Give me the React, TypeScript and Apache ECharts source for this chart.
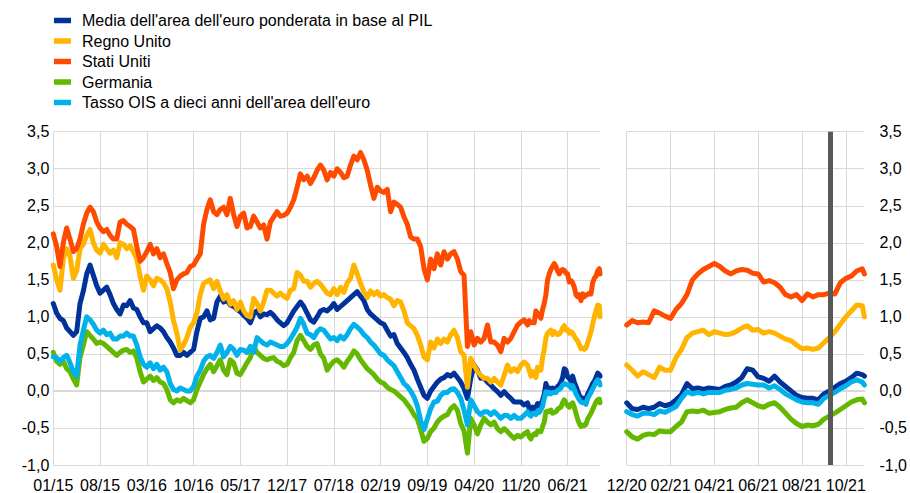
import React, { useEffect, useRef } from 'react';
import * as echarts from 'echarts';

// Series names (legend order) and colours
const seriesNames = [
  "Media dell'area dell'euro ponderata in base al PIL",
  'Regno Unito',
  'Stati Uniti',
  'Germania',
  "Tasso OIS a dieci anni dell'area dell'euro",
];
const seriesColors = ['#003299', '#FFB400', '#FF4B00', '#65B800', '#00B1EA'];

// Tick labels
const leftTickLabels = ['01/15', '08/15', '03/16', '10/16', '05/17', '12/17', '07/18', '02/19', '09/19', '04/20', '11/20', '06/21'];
const rightTickLabels = ['12/20', '02/21', '04/21', '06/21', '08/21', '10/21'];

// History: half-monthly readings, Jan 2015 .. mid Nov 2020 (x = months since Jan 2015)
const euroHist = [
  1.18, 1.05, 0.98, 0.95, 0.85, 0.80, 0.75, 0.80, 1.18, 1.35, 1.58, 1.70, 1.56, 1.42, 1.32, 1.36, 1.40, 1.30, 1.18, 1.10, 1.04, 1.16, 1.15, 1.22, 1.12, 1.10, 1.00, 0.92, 0.92, 0.80, 0.84, 0.88, 0.85, 0.80, 0.72, 0.66, 0.58, 0.48, 0.48, 0.52, 0.48,
  0.52, 0.56, 0.80, 0.98, 1.00, 1.08, 0.96, 0.98, 1.20, 1.28, 1.20, 1.22, 1.16, 1.14, 1.10, 1.07, 1.02, 0.98, 0.92, 1.04, 1.08, 1.00, 1.04, 1.03, 1.06, 1.02, 0.96, 0.92, 0.88, 0.92, 1.00, 1.08, 1.14, 1.20, 1.14, 1.05, 0.96, 0.93, 1.00, 1.08, 1.10,
  1.08, 1.12, 1.18, 1.10, 1.14, 1.18, 1.22, 1.26, 1.30, 1.34, 1.28, 1.22, 1.10, 1.04, 1.00, 0.96, 0.92, 0.90, 0.82, 0.74, 0.76, 0.64, 0.58, 0.52, 0.45, 0.36, 0.28, 0.16, 0.05, -0.06, -0.10, 0.00, 0.06, 0.12, 0.16, 0.18, 0.22, 0.20, 0.24, 0.18,
  0.12, 0.03, -0.10, 0.17, 0.35, 0.28, 0.17, 0.17, 0.12, 0.08, 0.03, -0.01, -0.06, -0.01, -0.06, -0.10, -0.15, -0.15, -0.15, -0.19,
];
const ukHist = [
  1.70, 1.50, 1.36, 1.78, 1.92, 1.82, 1.52, 1.62, 1.92, 1.98, 2.10, 2.18, 2.00, 1.90, 1.86, 1.98, 1.92, 1.86, 1.90, 1.80, 2.00, 1.98, 1.92, 1.96, 1.88, 1.78, 1.55, 1.36, 1.55, 1.50, 1.42, 1.52, 1.50, 1.46, 1.38, 1.20, 0.95, 0.78, 0.55, 0.62, 0.72,
  0.86, 0.92, 1.05, 1.30, 1.45, 1.48, 1.50, 1.38, 1.48, 1.35, 1.24, 1.30, 1.17, 1.22, 1.10, 1.20, 1.08, 1.02, 1.00, 1.25, 1.18, 1.08, 1.20, 1.36, 1.36, 1.32, 1.28, 1.32, 1.28, 1.25, 1.36, 1.38, 1.60, 1.56, 1.48, 1.48, 1.40, 1.45, 1.48, 1.44, 1.38,
  1.32, 1.30, 1.38, 1.30, 1.40, 1.33, 1.46, 1.52, 1.70, 1.58, 1.45, 1.34, 1.26, 1.35, 1.30, 1.34, 1.28, 1.30, 1.26, 1.24, 1.15, 1.22, 1.20, 1.08, 0.92, 0.88, 0.84, 0.75, 0.62, 0.46, 0.42, 0.66, 0.58, 0.70, 0.64, 0.70, 0.66, 0.76, 0.82, 0.72,
  0.53, 0.48, 0.05, 0.44, 0.35, 0.26, 0.21, 0.17, 0.17, 0.12, 0.17, 0.12, 0.08, 0.21, 0.35, 0.26, 0.30, 0.26, 0.35, 0.39,
];
const usHist = [
  2.12, 1.95, 1.68, 2.00, 2.20, 2.05, 1.88, 1.92, 2.05, 2.25, 2.40, 2.48, 2.42, 2.28, 2.20, 2.15, 2.18, 2.10, 2.05, 2.05, 2.28, 2.30, 2.25, 2.22, 2.18, 1.95, 1.75, 1.80, 1.88, 1.98, 1.85, 1.92, 1.80, 1.85, 1.72, 1.60, 1.38, 1.50, 1.55, 1.58, 1.60,
  1.68, 1.70, 1.78, 1.85, 2.25, 2.45, 2.58, 2.42, 2.38, 2.45, 2.48, 2.38, 2.60, 2.38, 2.22, 2.36, 2.40, 2.20, 2.22, 2.36, 2.28, 2.20, 2.24, 2.05, 2.28, 2.35, 2.42, 2.36, 2.37, 2.40, 2.48, 2.58, 2.75, 2.93, 2.85, 2.90, 2.80, 2.88, 2.98, 3.05, 2.98,
  2.85, 2.95, 2.90, 3.00, 2.95, 2.88, 2.90, 3.05, 3.17, 3.12, 3.22, 3.12, 2.98, 2.78, 2.60, 2.75, 2.70, 2.68, 2.72, 2.42, 2.55, 2.52, 2.48, 2.35, 2.25, 2.08, 2.05, 2.05, 1.95, 1.65, 1.50, 1.78, 1.65, 1.85, 1.70, 1.88, 1.78, 1.85, 1.88, 1.78,
  1.61, 1.56, 0.60, 0.80, 0.62, 0.71, 0.66, 0.71, 0.89, 0.66, 0.66, 0.62, 0.53, 0.71, 0.66, 0.71, 0.80, 0.89, 0.93, 0.96,
];
const germanyHist = [
  0.52, 0.40, 0.36, 0.40, 0.30, 0.26, 0.16, 0.08, 0.45, 0.62, 0.80, 0.75, 0.70, 0.64, 0.66, 0.64, 0.60, 0.56, 0.52, 0.48, 0.52, 0.55, 0.56, 0.52, 0.54, 0.44, 0.26, 0.12, 0.16, 0.20, 0.14, 0.18, 0.12, 0.10, 0.02, -0.12, -0.16, -0.12, -0.14, -0.10, -0.13,
  -0.16, -0.12, 0.02, 0.12, 0.22, 0.30, 0.36, 0.26, 0.34, 0.42, 0.28, 0.22, 0.42, 0.38, 0.24, 0.22, 0.30, 0.38, 0.45, 0.60, 0.52, 0.48, 0.44, 0.42, 0.44, 0.45, 0.40, 0.38, 0.34, 0.36, 0.45, 0.52, 0.68, 0.75, 0.68, 0.60, 0.56, 0.62, 0.64, 0.50, 0.44,
  0.28, 0.35, 0.40, 0.42, 0.38, 0.32, 0.40, 0.46, 0.54, 0.50, 0.42, 0.36, 0.30, 0.26, 0.22, 0.16, 0.12, 0.10, 0.05, 0.02, 0.00, -0.04, -0.08, -0.12, -0.18, -0.24, -0.32, -0.38, -0.52, -0.68, -0.64, -0.55, -0.50, -0.42, -0.37, -0.34, -0.32, -0.24, -0.20, -0.26,
  -0.44, -0.54, -0.84, -0.37, -0.46, -0.58, -0.46, -0.37, -0.42, -0.46, -0.42, -0.51, -0.55, -0.51, -0.55, -0.60, -0.64, -0.60, -0.62, -0.58,
];
const oisHist = [
  0.46, 0.45, 0.40, 0.45, 0.48, 0.38, 0.26, 0.20, 0.62, 0.82, 1.00, 0.96, 0.90, 0.82, 0.78, 0.82, 0.76, 0.78, 0.70, 0.70, 0.74, 0.74, 0.78, 0.74, 0.74, 0.62, 0.46, 0.36, 0.32, 0.38, 0.30, 0.36, 0.28, 0.32, 0.26, 0.10, 0.02, 0.00, 0.04, 0.02, 0.00,
  0.00, 0.06, 0.20, 0.28, 0.40, 0.46, 0.48, 0.44, 0.52, 0.62, 0.46, 0.52, 0.60, 0.56, 0.48, 0.56, 0.55, 0.52, 0.60, 0.52, 0.72, 0.68, 0.64, 0.62, 0.66, 0.64, 0.62, 0.60, 0.60, 0.64, 0.70, 0.78, 0.86, 0.98, 0.90, 0.78, 0.76, 0.72, 0.80, 0.84, 0.82,
  0.76, 0.70, 0.72, 0.68, 0.74, 0.70, 0.76, 0.84, 0.90, 0.86, 0.82, 0.76, 0.72, 0.66, 0.62, 0.56, 0.50, 0.48, 0.42, 0.38, 0.34, 0.26, 0.18, 0.10, 0.06, 0.00, -0.08, -0.20, -0.40, -0.52, -0.38, -0.24, -0.15, -0.14, -0.06, -0.02, -0.02, 0.02, 0.03, -0.02,
  -0.10, -0.26, -0.46, -0.12, -0.20, -0.28, -0.32, -0.28, -0.28, -0.32, -0.28, -0.32, -0.37, -0.33, -0.33, -0.37, -0.33, -0.37, -0.37, -0.33,
];

// Recent: quarter-monthly readings, Dec 2020 .. late Oct 2021 (x = months since Dec 2020)
const euroRecent = [-0.16, -0.24, -0.25, -0.22, -0.24, -0.22, -0.17, -0.20, -0.18, -0.12, -0.05, 0.10, 0.03, 0.04, 0.02, 0.04, 0.03, 0.02, 0.06, 0.08, 0.12, 0.18, 0.30, 0.28, 0.19, 0.17, 0.13, 0.20, 0.12, 0.06, 0.00, -0.06, -0.09, -0.10, -0.10, -0.12, -0.04, 0.00, 0.05, 0.10, 0.13, 0.18, 0.24, 0.22, 0.20];
const ukRecent = [0.35, 0.28, 0.20, 0.26, 0.22, 0.18, 0.32, 0.28, 0.28, 0.45, 0.56, 0.72, 0.78, 0.80, 0.82, 0.76, 0.80, 0.78, 0.76, 0.77, 0.80, 0.85, 0.88, 0.82, 0.83, 0.78, 0.80, 0.78, 0.74, 0.70, 0.68, 0.62, 0.57, 0.58, 0.56, 0.58, 0.65, 0.72, 0.80, 0.90, 1.00, 1.08, 1.16, 1.15, 1.00];
const usRecent = [0.89, 0.95, 0.92, 0.93, 0.92, 1.08, 1.05, 1.01, 0.98, 1.10, 1.18, 1.30, 1.50, 1.58, 1.64, 1.68, 1.72, 1.68, 1.62, 1.58, 1.62, 1.64, 1.63, 1.59, 1.58, 1.47, 1.49, 1.46, 1.40, 1.30, 1.27, 1.30, 1.22, 1.31, 1.27, 1.30, 1.30, 1.32, 1.31, 1.46, 1.52, 1.55, 1.62, 1.65, 1.58];
const germanyRecent = [-0.55, -0.62, -0.65, -0.60, -0.58, -0.59, -0.54, -0.55, -0.55, -0.48, -0.42, -0.28, -0.27, -0.28, -0.26, -0.30, -0.29, -0.28, -0.25, -0.23, -0.22, -0.16, -0.12, -0.16, -0.20, -0.22, -0.18, -0.16, -0.22, -0.30, -0.38, -0.44, -0.48, -0.46, -0.47, -0.45, -0.38, -0.34, -0.30, -0.25, -0.20, -0.15, -0.12, -0.11, -0.16];
const oisRecent = [-0.28, -0.32, -0.34, -0.30, -0.30, -0.32, -0.27, -0.29, -0.25, -0.21, -0.10, -0.01, -0.04, -0.02, -0.04, -0.02, -0.02, -0.02, 0.01, 0.02, 0.04, 0.08, 0.10, 0.09, 0.08, 0.08, 0.04, 0.07, 0.02, -0.04, -0.08, -0.12, -0.15, -0.16, -0.16, -0.18, -0.10, -0.06, -0.02, 0.03, 0.07, 0.12, 0.15, 0.12, 0.08];

// Time positions
const histStep = 0.5; // months
const recentStep = 0.25; // months
const recentStartInHist = 71; // Dec 2020 = 71 months after Jan 2015
const recentLast = 10.85; // last observation, months after Dec 2020
const eventDate = 9.27; // 9 Sep 2021, months after Dec 2020

const histSets = [euroHist, ukHist, usHist, germanyHist, oisHist];
const recentSets = [euroRecent, ukRecent, usRecent, germanyRecent, oisRecent];

const FONT = "'Liberation Sans', Arial, sans-serif";
const GRID_COLOR = '#d9d9d9';

const fmtY = (v: number) => v.toFixed(1).replace('.', ',');

export default function App() {
  const ref = useRef<HTMLDivElement>(null);

  useEffect(() => {
    document.body.style.margin = '0';
    if (!ref.current) return;
    const chart = echarts.init(ref.current, undefined, { renderer: 'svg' });

    const recentX = (j: number, n: number) => (j === n - 1 ? recentLast : j * recentStep);

    const leftSeries = seriesNames.map((name, k) => ({
      name,
      type: 'line',
      xAxisIndex: 0,
      yAxisIndex: 0,
      showSymbol: false,
      symbol: 'none',
      color: seriesColors[k],
      lineStyle: { width: 5, color: seriesColors[k], cap: 'round', join: 'round' },
      data: histSets[k]
        .map((v, i) => [i * histStep, v])
        .concat(recentSets[k].map((v, j) => [recentStartInHist + recentX(j, recentSets[k].length), v])),
    }));

    const rightSeries = seriesNames.map((name, k) => ({
      name,
      type: 'line',
      xAxisIndex: 1,
      yAxisIndex: 1,
      showSymbol: false,
      symbol: 'none',
      color: seriesColors[k],
      lineStyle: { width: 5, color: seriesColors[k], cap: 'round', join: 'round' },
      data: recentSets[k].map((v, j) => [recentX(j, recentSets[k].length), v]),
      markLine:
        k === seriesNames.length - 1
          ? {
              silent: true,
              symbol: ['none', 'none'],
              label: { show: false },
              lineStyle: { color: '#595959', width: 5, type: 'solid' },
              data: [{ xAxis: eventDate }],
              animation: false,
            }
          : undefined,
    }));

    const axisLabelBase = { fontSize: 16, color: '#000', fontFamily: FONT };

    chart.setOption({
      animation: false,
      textStyle: { fontFamily: FONT },
      legend: {
        orient: 'vertical',
        left: 54,
        top: 12.5,
        padding: 0,
        itemGap: 4.5,
        itemWidth: 17,
        itemHeight: 5.5,
        icon: 'rect',
        selectedMode: false,
        data: seriesNames,
        textStyle: { fontSize: 16, color: '#000', fontFamily: FONT, lineHeight: 16, padding: [0, 0, 0, 6] },
      },
      grid: [
        { left: 53.3, right: 310, top: 131.7, bottom: 28 },
        { left: 626.7, right: 40, top: 131.7, bottom: 28 },
      ],
      xAxis: [
        {
          gridIndex: 0,
          type: 'value',
          min: 0,
          max: recentStartInHist + recentLast,
          interval: 7,
          axisLine: { show: true, lineStyle: { color: GRID_COLOR, width: 2 } },
          axisTick: { show: false },
          axisLabel: {
            ...axisLabelBase,
            margin: 12,
            showMaxLabel: false,
            formatter: (v: number) => {
              const i = Math.round(v / 7);
              return Math.abs(v - i * 7) < 1e-6 ? leftTickLabels[i] ?? '' : '';
            },
          },
          splitLine: { show: true, showMaxLine: false, lineStyle: { color: GRID_COLOR, width: 1 } },
        },
        {
          gridIndex: 1,
          type: 'value',
          min: 0,
          max: recentLast,
          interval: 2,
          axisLine: { show: true, lineStyle: { color: GRID_COLOR, width: 2 } },
          axisTick: { show: false },
          axisLabel: {
            ...axisLabelBase,
            margin: 12,
            showMaxLabel: false,
            formatter: (v: number) => {
              const i = Math.round(v / 2);
              return Math.abs(v - i * 2) < 1e-6 ? rightTickLabels[i] ?? '' : '';
            },
          },
          splitLine: { show: true, showMaxLine: false, lineStyle: { color: GRID_COLOR, width: 1 } },
        },
      ],
      yAxis: [
        {
          gridIndex: 0,
          type: 'value',
          min: -1,
          max: 3.5,
          interval: 0.5,
          axisLine: { show: false },
          axisTick: { show: false },
          axisLabel: { ...axisLabelBase, margin: 4, formatter: fmtY },
          splitLine: { show: true, lineStyle: { color: GRID_COLOR, width: 1 } },
        },
        {
          gridIndex: 1,
          type: 'value',
          position: 'right',
          min: -1,
          max: 3.5,
          interval: 0.5,
          axisLine: { show: false },
          axisTick: { show: false },
          axisLabel: { ...axisLabelBase, margin: 15, formatter: fmtY },
          splitLine: { show: true, lineStyle: { color: GRID_COLOR, width: 1 } },
        },
      ],
      series: [...leftSeries, ...rightSeries],
    });

    return () => chart.dispose();
  }, []);

  return <div ref={ref} style={{ width: 910, height: 493 }} />;
}
